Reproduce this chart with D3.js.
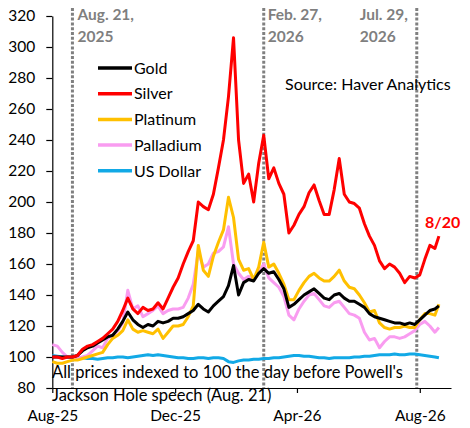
<!DOCTYPE html>
<html>
<head>
<meta charset="utf-8">
<script src="https://cdn.jsdelivr.net/npm/d3@7"></script>
<style>
  body { margin: 0; background: #fff; }
  text { font-family: Lato, "Open Sans", sans-serif; }
</style>
</head>
<body>
<svg id="chart"></svg>
<script>
const width = 470
const height = 428

// sampled every 5 days, last point is 8/20
const dates = [
  "2025-08-01","2025-08-06","2025-08-11","2025-08-16","2025-08-21","2025-08-26","2025-08-31",
  "2025-09-05","2025-09-10","2025-09-15","2025-09-20","2025-09-25","2025-09-30",
  "2025-10-05","2025-10-10","2025-10-15","2025-10-20","2025-10-25","2025-10-30",
  "2025-11-04","2025-11-09","2025-11-14","2025-11-19","2025-11-24","2025-11-29",
  "2025-12-04","2025-12-09","2025-12-14","2025-12-19","2025-12-24","2025-12-29",
  "2026-01-03","2026-01-08","2026-01-13","2026-01-18","2026-01-23","2026-01-28",
  "2026-02-02","2026-02-07","2026-02-12","2026-02-17","2026-02-22","2026-02-27",
  "2026-03-04","2026-03-09","2026-03-14","2026-03-19","2026-03-24","2026-03-29",
  "2026-04-03","2026-04-08","2026-04-13","2026-04-18","2026-04-23","2026-04-28",
  "2026-05-03","2026-05-08","2026-05-13","2026-05-18","2026-05-23","2026-05-28",
  "2026-06-02","2026-06-07","2026-06-12","2026-06-17","2026-06-22","2026-06-27",
  "2026-07-02","2026-07-07","2026-07-12","2026-07-17","2026-07-22","2026-07-27",
  "2026-08-01","2026-08-06","2026-08-11","2026-08-16","2026-08-20"
]

const gold = [100,100,100,100,100,101,104,106,107,109,111,113,114,118,123,129,124,121,119,121,
  120,123,122,123,125,125,126,128,130,134,131,129,133,136,139,146,159,140,148,150,
  149,154,157,154,155,150,144,132,134,137,140,142,144,141,138,137,140,141,138,136,
  136,134,132,128,126,125,124,123,122,122,121,122,121,124,127,130,131,133]

const silver = [100,100,99,100,100,101,105,107,108,110,112,115,118,123,130,138,131,128,132,130,
  131,135,131,138,145,151,160,168,175,200,197,195,205,222,240,268,306,240,212,218,
  200,225,243,215,222,212,205,180,185,192,197,206,211,201,192,192,208,228,205,200,
  199,196,186,178,172,162,157,160,158,154,148,152,151,153,163,172,170,178]

const platinum = [97,96,96,97,98,98,99,100,101,102,103,108,112,114,117,124,118,116,117,116,
  115,118,112,116,120,120,121,126,133,172,156,152,165,174,182,203,190,163,156,157,
  150,158,174,158,160,154,147,137,137,143,148,152,154,151,149,149,152,156,149,145,
  144,140,135,129,130,122,119,118,119,119,120,119,119,124,128,128,127,134]

const palladium = [108,107,103,100,100,99,100,101,104,107,106,112,114,117,122,143,131,133,126,128,
  130,133,128,130,131,131,132,138,147,168,158,160,167,168,171,184,160,154,150,152,
  150,154,160,151,148,145,139,127,124,131,136,140,141,137,133,132,135,136,132,128,
  127,125,116,111,112,106,110,113,113,112,113,115,117,121,123,120,116,119]

const dollar = [101,100.5,100,100,99.5,99.5,99.5,99,99,98.5,99,99.5,99.5,100,100,99.5,100,100.5,101,101.5,
  101,101.5,101,100.5,100,99.5,99.5,99,99,99.5,99.5,99,99.5,99.5,99,97,96.5,97.5,98,98,
  98.5,98.5,99,99,99.5,99.5,100,100.5,101,101,100.5,100.5,100,99.5,99.5,99,99.5,99.5,99.5,99.5,
  100,100,100.5,100.5,101,101.5,101.5,101.5,102,101.5,101.5,102,102,101.5,101,100.5,100,99.5]

const seriesNames = ["Gold", "Silver", "Platinum", "Palladium", "US Dollar"]
const seriesValues = [gold, silver, platinum, palladium, dollar]
const seriesColors = ["#000000", "#ff0000", "#ffc000", "#f99cf0", "#12a9e6"]
// drawing order, bottom first
const drawOrder = [4, 3, 2, 0, 1]

const yTicks = [80, 100, 120, 140, 160, 180, 200, 220, 240, 260, 280, 300, 320]
const xTicks = ["2025-08-01", "2025-12-01", "2026-04-01", "2026-08-01"]
const eventDates = ["2025-08-21", "2026-02-27", "2026-07-29"]
const eventLabels = [["Aug. 21,", "2025"], ["Feb. 27,", "2026"], ["Jul. 29,", "2026"]]

const parse = d3.timeParse("%Y-%m-%d")

const x = d3.scaleTime()
  .domain([parse("2025-08-01"), parse("2026-09-01")])
  .range([52.3, 451])
const y = d3.scaleLinear()
  .domain([80, 320])
  .range([388, 16])

const svg = d3.select('#chart')
  .attr('width', width)
  .attr('height', height)

// event markers
const evG = svg.append('g')
eventDates.forEach((d, i) => {
  const ex = x(parse(d))
  evG.append('line')
    .attr('x1', ex).attr('x2', ex)
    .attr('y1', 8).attr('y2', y(80))
    .attr('stroke', '#808080')
    .attr('stroke-width', 3)
    .attr('stroke-dasharray', '3,1.8')
  // label sits right of the line, except the last one which sits left
  const lx = i === 2 ? ex - 57 : ex + (i === 0 ? 5 : 4)
  evG.selectAll(null)
    .data(eventLabels[i])
    .join('text')
    .attr('x', lx)
    .attr('y', (t, j) => 20 + j * 22)
    .attr('fill', '#7f7f7f')
    .attr('font-weight', 'bold')
    .style('font-size', '15.5px')
    .text(t => t)
})

// axes
const yAxis = svg.append('g')
  .attr('transform', `translate(${x.range()[0]},0)`)
  .call(d3.axisLeft(y).tickValues(yTicks).tickSize(6).tickSizeOuter(0).tickPadding(11))
const xAxis = svg.append('g')
  .attr('transform', `translate(0,${y(80)})`)
  .call(d3.axisBottom(x).tickValues(xTicks.map(parse)).tickFormat(d3.timeFormat('%b-%y'))
    .tickSize(5).tickSizeOuter(0).tickPadding(17))
svg.selectAll('.tick text')
  .style('font-size', '15.5px')
  .attr('fill', '#000')
svg.selectAll('.domain, .tick line').attr('stroke', '#000').attr('stroke-width', 1.2)

// series lines
const line = d3.line()
  .x((d, i) => x(parse(dates[i])))
  .y(d => y(d))
svg.append('g')
  .selectAll('path')
  .data(drawOrder)
  .join('path')
  .attr('d', k => line(seriesValues[k]))
  .attr('fill', 'none')
  .attr('stroke', k => seriesColors[k])
  .attr('stroke-width', 3)
  .attr('stroke-linejoin', 'round')

// legend
const legend = svg.append('g').attr('transform', 'translate(98,68)')
const row = legend.selectAll('g')
  .data(seriesNames)
  .join('g')
  .attr('transform', (d, i) => `translate(0,${i * 25.7})`)
row.append('line')
  .attr('x1', 0).attr('x2', 34)
  .attr('stroke', (d, i) => seriesColors[i])
  .attr('stroke-width', 3.5)
row.append('text')
  .attr('x', 36)
  .attr('dy', '0.36em')
  .style('font-size', '16px')
  .text(d => d)

// source and notes
svg.append('text')
  .attr('x', 285).attr('y', 90)
  .style('font-size', '16px')
  .text('Source: Haver Analytics')

svg.append('text')
  .attr('x', 52).attr('y', 378)
  .style('font-size', '16.5px')
  .text("All prices indexed to 100 the day before Powell's")
svg.append('text')
  .attr('x', 52).attr('y', 401)
  .style('font-size', '16.5px')
  .text('Jackson Hole speech (Aug. 21)')

// last value label
const lastI = dates.length - 1
svg.append('text')
  .attr('x', x(parse(dates[lastI])) - 14)
  .attr('y', y(silver[lastI]) - 8)
  .attr('fill', '#ff0000')
  .attr('font-weight', 'bold')
  .style('font-size', '16px')
  .text('8/20')
</script>
</body>
</html>
